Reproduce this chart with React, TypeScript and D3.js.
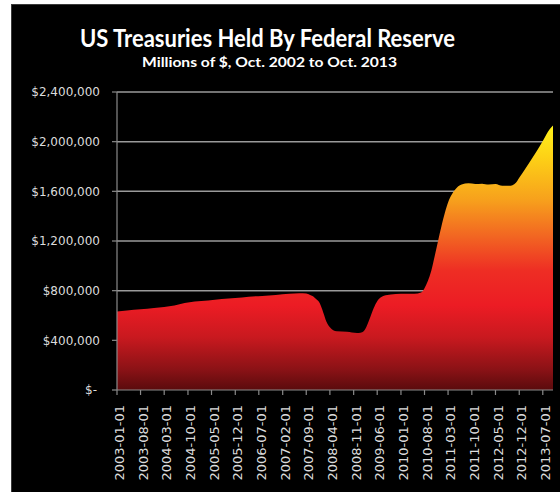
import React from "react";
import * as d3 from "d3";

const title = "US Treasuries Held By Federal Reserve";
const subtitle = "Millions of $, Oct. 2002 to Oct. 2013";

const dates = [
  "2003-01-01","2003-04-01","2003-08-01","2003-12-01","2004-03-01","2004-06-01","2004-09-01","2004-12-01",
  "2005-04-01","2005-08-01","2005-12-01","2006-04-01","2006-08-01","2006-12-01","2007-04-01","2007-07-01",
  "2007-09-01","2007-10-01","2007-11-01","2007-12-01","2008-01-01","2008-02-01","2008-03-01","2008-04-01",
  "2008-05-01","2008-06-01","2008-09-01","2008-12-01","2009-01-01","2009-02-01","2009-03-01","2009-04-01",
  "2009-05-01","2009-06-01","2009-07-01","2009-08-01","2009-10-01","2010-01-01","2010-04-01","2010-06-01",
  "2010-07-01","2010-08-01","2010-09-01","2010-10-01","2010-11-01","2010-12-01","2011-01-01","2011-02-01",
  "2011-03-01","2011-04-01","2011-05-01","2011-06-01","2011-07-01","2011-09-01","2011-11-01","2012-01-01",
  "2012-03-01","2012-05-01","2012-07-01","2012-09-01","2012-10-01","2012-11-01","2012-12-01","2013-01-01",
  "2013-03-01","2013-05-01","2013-07-01","2013-09-01","2013-10-01"
];
const values = [
  632000,640000,650000,660000,668000,680000,700000,712000,
  720000,732000,740000,752000,758000,766000,775000,779000,
  778000,768000,755000,730000,698000,625000,550000,505000,
  482000,474000,470000,460000,462000,475000,520000,590000,
  660000,715000,745000,760000,770000,776000,776000,778000,
  785000,820000,880000,960000,1080000,1200000,1320000,1430000,
  1510000,1570000,1610000,1640000,1655000,1665000,1660000,1662000,
  1655000,1660000,1645000,1645000,1650000,1670000,1710000,1750000,
  1830000,1915000,2005000,2100000,2130000
];
const yTicks = [0, 400000, 800000, 1200000, 1600000, 2000000, 2400000];
const yTickLabels = ["$-", "$400,000", "$800,000", "$1,200,000", "$1,600,000", "$2,000,000", "$2,400,000"];
const xTickLabels = [
  "2003-01-01","2003-08-01","2004-03-01","2004-10-01","2005-05-01","2005-12-01","2006-07-01",
  "2007-02-01","2007-09-01","2008-04-01","2008-11-01","2009-06-01","2010-01-01","2010-08-01",
  "2011-03-01","2011-10-01","2012-05-01","2012-12-01","2013-07-01"
];

const parse = d3.timeParse("%Y-%m-%d");

export default function App() {
  const W = 560, H = 492;
  const x0 = 117, x1 = 553, yTop = 92, yBot = 390;
  const x = d3.scaleTime()
    .domain([parse("2003-01-01")!, parse("2013-10-01")!])
    .range([x0, x1]);
  const y = d3.scaleLinear().domain([0, 2400000]).range([yBot, yTop]);

  const data = dates.map((d, i) => ({ date: parse(d)!, value: values[i] }));
  const area = d3.area<{ date: Date; value: number }>()
    .x(d => x(d.date))
    .y0(y(0))
    .y1(d => y(d.value))
    .curve(d3.curveMonotoneX);

  const maxV = d3.max(values)!;

  return (
    <svg width={W} height={H} style={{ position: "absolute", left: 0, top: 0, display: "block" }}>
      <defs>
        <linearGradient id="areaGrad" gradientUnits="userSpaceOnUse" x1={0} y1={y(maxV)} x2={0} y2={y(0)}>
          <stop offset="0" stopColor="#fff21a" />
          <stop offset="0.12" stopColor="#fdd116" />
          <stop offset="0.28" stopColor="#f7a11c" />
          <stop offset="0.42" stopColor="#f26522" />
          <stop offset="0.55" stopColor="#ee2d24" />
          <stop offset="0.68" stopColor="#ec1c24" />
          <stop offset="0.80" stopColor="#c9191f" />
          <stop offset="0.92" stopColor="#8c1216" />
          <stop offset="1" stopColor="#5a0b0d" />
        </linearGradient>
      </defs>
      <rect x={0} y={0} width={W} height={H} fill="#ffffff" />
      <rect x={11.5} y={4.5} width={W - 11} height={H - 4} fill="#000000" stroke="#3a3a3a" strokeWidth={1} />

      <text x={267.5} y={46.5} textAnchor="middle" fill="#ffffff" fontFamily="Lato, 'Open Sans', sans-serif"
        fontWeight="bold" fontSize={24} textLength={375} lengthAdjust="spacingAndGlyphs">{title}</text>
      <text x={269.5} y={66.5} textAnchor="middle" fill="#ffffff" fontFamily="Lato, 'Open Sans', sans-serif"
        fontWeight="bold" fontSize={14} textLength={255} lengthAdjust="spacingAndGlyphs">{subtitle}</text>

      {yTicks.filter(t => t > 0).map(t => (
        <line key={"g" + t} x1={x0} x2={x1} y1={y(t)} y2={y(t)} stroke="#9a9a9a" strokeWidth={1.5} />
      ))}

      <path d={area(data) || ""} fill="url(#areaGrad)" />

      <line x1={x0} x2={x0} y1={yTop} y2={yBot} stroke="#8a8a8a" strokeWidth={1.2} />
      <line x1={x0} x2={x1} y1={yBot} y2={yBot} stroke="#8a8a8a" strokeWidth={1.2} />
      {yTicks.map(t => (
        <line key={"yt" + t} x1={x0 - 5} x2={x0} y1={y(t)} y2={y(t)} stroke="#8a8a8a" strokeWidth={1.2} />
      ))}
      {yTicks.map((t, i) => (
        <text key={"yl" + t} x={t === 0 ? 97 : 100} y={y(t)} dy="0.35em" textAnchor="end" fill="#dcdcdc"
          fontFamily="'DejaVu Sans', sans-serif" fontSize={12}>{yTickLabels[i]}</text>
      ))}

      {xTickLabels.map(l => {
        const xt = x(parse(l)!);
        return (
          <g key={"xt" + l}>
            <line x1={xt} x2={xt} y1={yBot} y2={yBot + 5} stroke="#8a8a8a" strokeWidth={1.2} />
            <text transform={`translate(${xt + 2.5},405) rotate(-90)`} dy="0.35em" textAnchor="end" fill="#dcdcdc"
              fontFamily="'DejaVu Sans', sans-serif" fontSize={13}>{l}</text>
          </g>
        );
      })}
    </svg>
  );
}
